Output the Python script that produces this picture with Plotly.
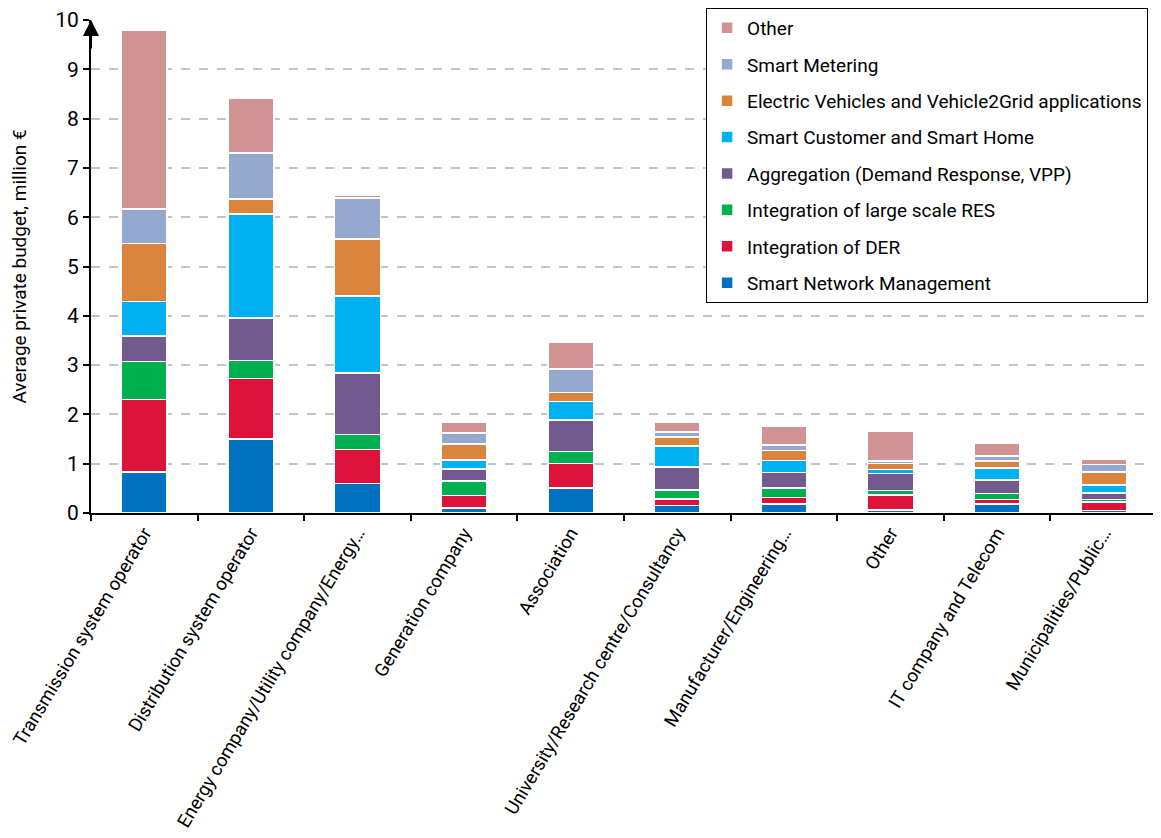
import plotly.graph_objects as go

categories = [
    "Transmission system operator",
    "Distribution system operator",
    "Energy company/Utility company/Energy…",
    "Generation company",
    "Association",
    "University/Research centre/Consultancy",
    "Manufacturer/Engineering…",
    "Other",
    "IT company and Telecom",
    "Municipalities/Public…",
]

smart_network = [0.83, 1.50, 0.60, 0.10, 0.51, 0.15, 0.18, 0.06, 0.18, 0.05]
der = [1.47, 1.23, 0.69, 0.25, 0.49, 0.13, 0.13, 0.31, 0.09, 0.17]
large_res = [0.77, 0.36, 0.30, 0.30, 0.25, 0.19, 0.20, 0.09, 0.13, 0.05]
aggregation = [0.52, 0.87, 1.25, 0.24, 0.64, 0.46, 0.31, 0.34, 0.27, 0.14]
smart_customer = [0.70, 2.10, 1.56, 0.19, 0.37, 0.43, 0.24, 0.08, 0.24, 0.16]
ev = [1.18, 0.31, 1.16, 0.32, 0.18, 0.18, 0.21, 0.12, 0.14, 0.26]
smart_metering = [0.70, 0.93, 0.83, 0.22, 0.48, 0.10, 0.11, 0.05, 0.11, 0.15]
other = [3.62, 1.11, 0.05, 0.23, 0.55, 0.21, 0.37, 0.61, 0.25, 0.12]

series_names = [
    "Smart Network Management",
    "Integration of DER",
    "Integration of large scale RES",
    "Aggregation (Demand Response, VPP)",
    "Smart Customer and Smart Home",
    "Electric Vehicles and Vehicle2Grid applications",
    "Smart Metering",
    "Other",
]
series_values = [smart_network, der, large_res, aggregation, smart_customer, ev, smart_metering, other]
series_colors = ["#0070C0", "#DC143C", "#00B050", "#725A8E", "#00B0F0", "#DA843E", "#95A9D0", "#D09292"]

FONT = "Roboto, Arial, sans-serif"

fig = go.Figure()
n = len(series_names)
for i, (name, vals, col) in enumerate(zip(series_names, series_values, series_colors)):
    fig.add_trace(go.Bar(
        x=categories, y=vals, name=name, legendgroup=name,
        legendrank=n - i,
        marker=dict(color=col, line=dict(color="white", width=1.5)),
        width=0.43,
    ))

fig.update_layout(
    barmode="stack",
    width=1153, height=830,
    margin=dict(l=83, r=4, t=0, b=325),
    plot_bgcolor="white", paper_bgcolor="white",
    font=dict(family=FONT, color="black", size=18),
    showlegend=True,
    legend=dict(
        traceorder="grouped", x=0.577, y=1.0, xanchor="left", yanchor="top",
        bordercolor="black", borderwidth=1, bgcolor="white",
        font=dict(size=19, family=FONT), tracegroupgap=8.7,
    ),
    xaxis=dict(
        showline=True, linecolor="black", linewidth=2,
        ticks="outside", tickson="boundaries", ticklen=6, tickwidth=2, tickcolor="black",
        tickangle=-59, tickfont=dict(size=18.5, family=FONT),
        automargin=False,
    ),
    yaxis=dict(
        domain=[0, 0.9762],
        range=[0, 10], dtick=1, showline=True, linecolor="black", linewidth=2,
        ticks="outside", ticklen=6, tickwidth=2, tickcolor="black",
        showgrid=True, gridcolor="#C4C4C4", griddash="dash", gridwidth=1.5,
        tickfont=dict(size=21, family=FONT),
        title=dict(text="Average private budget, million €", font=dict(size=19, family=FONT), standoff=30),
        zeroline=False, automargin=False,
    ),
)

fig.add_annotation(
    x=0, xref="paper", y=10, yref="y", ax=0, ay=30, axref="pixel", ayref="pixel",
    showarrow=True, arrowhead=2, arrowsize=1.6, arrowwidth=2, arrowcolor="black", text="",
)

fig.write_html("out.html")
